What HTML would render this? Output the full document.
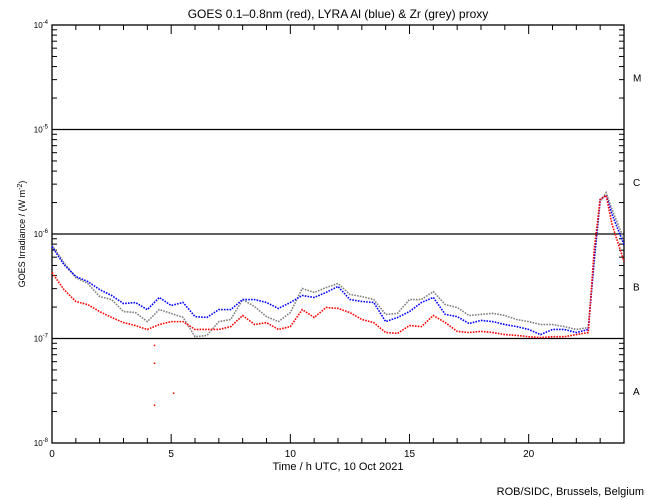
<!DOCTYPE html>
<html><head><meta charset="utf-8"><style>
body{margin:0;background:#fff;}
svg{display:block;font-family:"Liberation Sans",sans-serif;}
</style></head><body>
<svg id="chart" width="650" height="500" viewBox="0 0 650 500">
<rect width="650" height="500" fill="#fff"/>
<text x="338" y="18" font-size="12" text-anchor="middle">GOES 0.1–0.8nm (red), LYRA Al (blue) &amp; Zr (grey) proxy</text>
<text x="338" y="470" font-size="11" text-anchor="middle">Time / h UTC, 10 Oct 2021</text>
<text x="644" y="495" font-size="11" text-anchor="end">ROB/SIDC, Brussels, Belgium</text>
<text transform="translate(25,234) rotate(-90)" font-size="9" text-anchor="middle">GOES Irradiance / (W m<tspan baseline-shift="super" font-size="7">-2</tspan>)</text>
<g id="axes"></g>
<g id="series"></g>
</svg>
<script>
const times=[0,0.5,1,1.5,2,2.5,3,3.5,4,4.5,5,5.5,6,6.5,7,7.5,8,8.5,9,9.5,10,10.5,11,11.5,12,12.5,13,13.5,14,14.5,15,15.5,16,16.5,17,17.5,18,18.5,19,19.5,20,20.5,21,21.5,22,22.5,22.75,23,23.25,23.5,24];
// values in units of 1e-7 W m^-2
const goesRed=[4.28,2.94,2.26,2.11,1.81,1.59,1.42,1.33,1.22,1.36,1.45,1.45,1.22,1.22,1.22,1.30,1.66,1.36,1.42,1.22,1.30,1.89,1.59,1.98,1.94,1.77,1.52,1.42,1.14,1.12,1.33,1.30,1.66,1.42,1.17,1.14,1.17,1.14,1.09,1.07,1.04,1.02,1.04,1.04,1.09,1.14,7.1,21.4,23.4,12.3,5.46];
const lyraAl=[7.6,5.1,3.92,3.51,2.94,2.58,2.16,2.21,1.89,2.47,2.07,2.21,1.62,1.59,1.89,1.89,2.36,2.36,2.21,1.94,2.21,2.58,2.47,2.76,3.15,2.36,2.26,2.21,1.45,1.59,1.81,2.21,2.47,1.70,1.62,1.39,1.49,1.45,1.36,1.30,1.22,1.09,1.22,1.22,1.14,1.22,5.7,21.4,23.4,15.4,7.9];
const lyraZr=[7.8,5.34,3.83,3.36,2.52,2.36,1.81,1.77,1.45,1.89,1.74,1.59,1.04,1.07,1.45,1.52,2.36,2.02,1.62,1.45,1.77,3.01,2.76,3.07,3.36,2.64,2.52,2.36,1.70,1.74,2.36,2.36,2.81,2.11,1.98,1.66,1.70,1.74,1.66,1.52,1.45,1.36,1.36,1.30,1.22,1.27,5.46,20.5,24.9,17.1,8.9];
const outlierTimes=[4.3,4.3,4.3,5.1];
const outlierVals=[0.86,0.58,0.23,0.30];
const xTicks=[0,5,10,15,20];
const yDecades=[-8,-7,-6,-5,-4];
const classLabels=["A","B","C","M"];

const NS="http://www.w3.org/2000/svg";
const X0=52,X1=624,YT=25,YB=443;
const xs=t=>X0+(X1-X0)*t/24;
const ys=l=>YB-(YB-YT)*(l+8)/4;
const yv=v=>ys(Math.log10(v*1e-7));
function mk(tag,attrs,parent){const e=document.createElementNS(NS,tag);for(const k in attrs)e.setAttribute(k,attrs[k]);parent.appendChild(e);return e;}
const ax=document.getElementById('axes');
const fr=mk('rect',{x:X0,y:YT,width:X1-X0,height:YB-YT,fill:'none',stroke:'#000','stroke-width':1.3},ax);


yDecades.forEach((d,i)=>{
  const y=ys(d);
  if(d>-8&&d<-4){const l=mk('line',{x1:X0,x2:X1,y1:y,y2:y,stroke:'#000','stroke-width':1.3},ax);
    
    }
  const t=mk('text',{x:X0-4,y:y+3,'font-size':8,'text-anchor':'end'},ax);
  
  
  t.textContent='10';
  const s=mk('tspan',{'font-size':6,dy:-4},t);s.textContent=String(d);
  if(i<4){
    for(let m=2;m<=9;m++){const yy=ys(d+Math.log10(m));
      mk('line',{x1:X0,x2:X0+5,y1:yy,y2:yy,stroke:'#000'},ax);
      mk('line',{x1:X1,x2:X1-5,y1:yy,y2:yy,stroke:'#000'},ax);}
    mk('line',{x1:X0,x2:X0+9,y1:y,y2:y,stroke:'#000'},ax);
    const c=mk('text',{x:633,y:ys(d+0.5)+4,'font-size':10},ax);
    
    
    c.textContent=classLabels[i];
  }
});
for(let h=0;h<=24;h++){const x=xs(h);const L=h%5===0?9:5;
  mk('line',{x1:x,x2:x,y1:YB,y2:YB-L,stroke:'#000'},ax);
  mk('line',{x1:x,x2:x,y1:YT,y2:YT+L,stroke:'#000'},ax);}
xTicks.forEach(v=>{const t=mk('text',{x:xs(v),y:YB+14,'font-size':10,'text-anchor':'middle'},ax);
  
  
  t.textContent=v;});
const sg=document.getElementById('series');
function series(vals,color,name){
  const p=mk('polyline',{points:times.map((t,i)=>xs(t)+','+yv(vals[i])).join(' '),fill:'none',stroke:color,'stroke-width':1.6,'stroke-dasharray':'1.6 1.2'},sg);
  
  
}
series(lyraZr,'#808080','lyra-zr-series');
series(lyraAl,'#0000ff','lyra-al-series');
series(goesRed,'#ff0000','goes-series');
outlierTimes.forEach((t,i)=>{const c=mk('rect',{x:xs(t)-0.7,y:yv(outlierVals[i])-0.7,width:1.5,height:1.5,fill:'#ff0000'},sg);
  
  });
</script>
</body></html>
